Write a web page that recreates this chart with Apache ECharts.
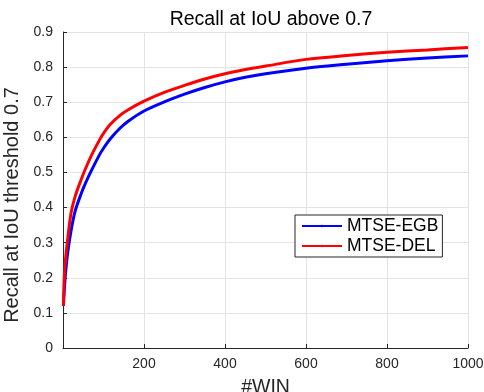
<!DOCTYPE html>
<html>
<head>
<meta charset="utf-8">
<script src="https://cdn.jsdelivr.net/npm/echarts@6/dist/echarts.min.js"></script>
<style>
  html, body { margin: 0; padding: 0; background: #fff; }
  #recallChart { width: 484px; height: 392px; }
</style>
</head>
<body>
<div id="recallChart"></div>
<script>
// number of windows
const winCounts = [1, 3, 6, 12, 20, 30, 45, 55, 70, 90, 100, 117, 140, 160, 200, 250, 300, 350, 400, 450, 500, 600, 700, 800, 900, 1000];
// recall values
const recallEGB = [0.12, 0.16, 0.21, 0.275, 0.335, 0.39, 0.44, 0.468, 0.505, 0.550, 0.569, 0.596, 0.625, 0.645, 0.675, 0.701, 0.723, 0.742, 0.758, 0.771, 0.781, 0.797, 0.808, 0.818, 0.826, 0.832];
const recallDEL = [0.12, 0.20, 0.25, 0.315, 0.385, 0.432, 0.48, 0.509, 0.548, 0.592, 0.611, 0.637, 0.662, 0.678, 0.703, 0.728, 0.748, 0.766, 0.781, 0.793, 0.803, 0.822, 0.833, 0.842, 0.849, 0.856];
const seriesNames = ['MTSE-EGB', 'MTSE-DEL'];
const yTicks = [0, 0.1, 0.2, 0.3, 0.4, 0.5, 0.6, 0.7, 0.8, 0.9];

const font = 'Liberation Sans, Arial, sans-serif';
const pairs = (ys) => winCounts.map((x, i) => [x, ys[i]]);

let myChart = echarts.init(document.getElementById('recallChart'));
const option = {
  animation: false,
  title: {
    text: 'Recall at IoU above 0.7',
    left: 266, top: 5, textAlign: 'center',
    textStyle: { fontFamily: font, fontSize: 19.5, fontWeight: 'normal', color: '#000' }
  },
  grid: { left: 63, right: 16, top: 32, bottom: 44, outerBoundsMode: 'none', containLabel: false },
  legend: {
    orient: 'vertical',
    left: 295, top: 215,
    padding: [2, 4, 2, 6],
    itemGap: 2,
    itemWidth: 40, itemHeight: 3,
    backgroundColor: '#fff',
    borderColor: '#262626', borderWidth: 1,
    textStyle: { fontFamily: font, fontSize: 17.5, color: '#000' },
    data: seriesNames
  },
  xAxis: {
    type: 'value', min: 0, max: 1000, interval: 200,
    name: '#WIN', nameLocation: 'middle', nameGap: 30,
    nameTextStyle: { fontFamily: font, fontSize: 19.5, color: '#262626' },
    axisLine: { lineStyle: { color: '#262626' } },
    axisTick: { inside: true, length: 4, lineStyle: { color: '#262626' } },
    axisLabel: {
      fontFamily: font, fontSize: 14, color: '#262626', margin: 9,
      formatter: v => (v === 0 ? '' : String(v))
    },
    splitLine: { show: true, lineStyle: { color: '#e3e3e3' } }
  },
  yAxis: {
    type: 'value', min: yTicks[0], max: yTicks[yTicks.length - 1], interval: 0.1,
    name: 'Recall at IoU threshold 0.7', nameLocation: 'middle', nameGap: 28,
    nameTextStyle: { fontFamily: font, fontSize: 20, color: '#262626', padding: [0, 30, 0, 0] },
    axisLine: { show: true, lineStyle: { color: '#262626' } },
    axisTick: { show: true, inside: true, length: 4, lineStyle: { color: '#262626' } },
    axisLabel: {
      fontFamily: font, fontSize: 14, color: '#262626', margin: 10,
      formatter: v => String(Math.round(v * 10) / 10)
    },
    splitLine: { show: true, lineStyle: { color: '#e3e3e3' } }
  },
  series: [
    {
      name: seriesNames[0], type: 'line', data: pairs(recallEGB),
      showSymbol: false, symbol: 'none', smooth: 0.3,
      lineStyle: { color: '#0000ff', width: 3 }, itemStyle: { color: '#0000ff' }
    },
    {
      name: seriesNames[1], type: 'line', data: pairs(recallDEL),
      showSymbol: false, symbol: 'none', smooth: 0.3,
      lineStyle: { color: '#ff0000', width: 3 }, itemStyle: { color: '#ff0000' }
    }
  ]
};
myChart.setOption(option);
</script>
</body>
</html>
